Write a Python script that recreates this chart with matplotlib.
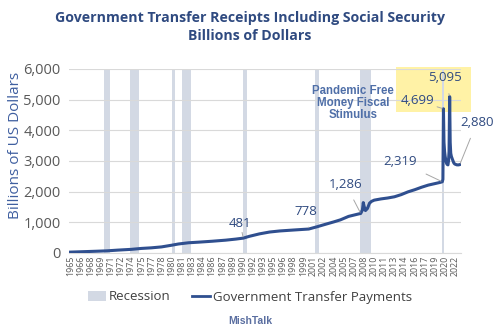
import matplotlib
matplotlib.use("Agg")
import matplotlib.pyplot as plt
from matplotlib.patches import Rectangle, Patch
from matplotlib.lines import Line2D

# ---- data ----
years = [1965.0, 1967.0, 1969.0, 1970.5, 1972.0, 1974.0, 1975.5, 1977.0, 1978.5,
         1980.0, 1981.0, 1982.5, 1984.0, 1986.0, 1988.0, 1989.5, 1990.6, 1991.5,
         1993.0, 1994.5, 1996.0, 1998.0, 2000.3, 2001.5, 2002.5, 2004.0, 2005.0,
         2006.2, 2007.5, 2008.0, 2008.25, 2008.38, 2008.5, 2008.7, 2009.0, 2009.3,
         2009.6, 2010.0, 2011.0, 2012.0, 2013.0, 2014.0, 2015.0, 2016.0, 2017.0,
         2018.0, 2019.0, 2019.8, 2020.08, 2020.17, 2020.25, 2020.33, 2020.42,
         2020.5, 2020.58, 2020.67, 2020.75, 2020.83, 2020.92, 2021.0, 2021.08,
         2021.17, 2021.25, 2021.33, 2021.42, 2021.5, 2021.58, 2021.67, 2021.75,
         2021.83, 2021.92, 2022.0, 2022.25, 2022.5, 2022.67]
values = [25, 40, 55, 68, 90, 115, 145, 165, 195,
          250, 290, 330, 350, 380, 415, 450, 481, 540,
          620, 680, 715, 745, 778, 850, 915, 1010, 1078,
          1190, 1260, 1286, 1400, 1640, 1520, 1380, 1450, 1620,
          1680, 1720, 1760, 1790, 1830, 1900, 1990, 2060, 2140,
          2210, 2260, 2300, 2319, 2400, 4699, 3600, 3300,
          3150, 3050, 2950, 2900, 2880, 2870, 3000, 3300,
          5095, 3600, 3250, 3150, 3100, 3050, 3000, 2950,
          2920, 2900, 2890, 2870, 2870, 2880]

recession_start = [1969.92, 1973.83, 1980.0, 1981.5, 1990.5, 2001.17, 2007.92, 2020.08]
recession_end = [1970.88, 1975.2, 1980.55, 1982.88, 1991.2, 2001.88, 2009.5, 2020.33]

tick_years = [1965 + 1.5 * k for k in range(39)]
tick_labels = [str(int(t)) for t in tick_years]

# annotated points: (year, value, label, dx_px, dy_px)
ann_years = [1990.6, 2000.3, 2008.0, 2020.08, 2020.25, 2021.17, 2022.67]
ann_values = [481, 778, 1286, 2319, 4699, 5095, 2880]
ann_labels = ["481", "778", "1,286", "2,319", "4,699", "5,095", "2,880"]
ann_dx = [-3, -3, -15, -42, -26, -5, 17]
ann_dy = [15, 18, 29, 20, 8, 19, 42]

title = "Government Transfer Receipts Including Social Security\nBillions of Dollars"

# ---- figure ----
fig = plt.figure(figsize=(5.0, 3.28), dpi=100)
ax = fig.add_axes([0.138, 0.229, 0.784, 0.561])

line_color = "#2F4F8F"
rec_color = "#D3D9E4"
text_blue = "#2F4A80"

ax.set_xlim(1964.8, 2022.85)
ax.set_ylim(0, 6000)

for s, e in zip(recession_start, recession_end):
    ax.axvspan(s, e, color=rec_color, zorder=0.3, lw=0)

# yellow highlight box (figure coords)
ax.add_patch(Rectangle((0.792, 0.6585), 0.15, 0.137, transform=fig.transFigure,
                       facecolor="#FFF2A6", edgecolor="none", zorder=0.2, clip_on=False))

ax.plot(years, values, color=line_color, lw=2.2, zorder=3)

ax.set_yticks(range(0, 6001, 1000))
ax.set_yticklabels([f"{v:,}" for v in range(0, 6001, 1000)], fontsize=10.5,
                   color="#595959", family="Open Sans")
ax.yaxis.grid(True, color="#D9D9D9", lw=0.8, zorder=0.5)
ax.set_axisbelow(True)
ax.set_xticks(tick_years)
ax.set_xticklabels(tick_labels, rotation=90, fontsize=6.4, color="#595959", family="Open Sans")
ax.tick_params(axis="both", length=0, pad=2)
ax.tick_params(axis="y", pad=6)
for sp in ["top", "right", "left"]:
    ax.spines[sp].set_visible(False)
ax.spines["bottom"].set_color("#D9D9D9")

ax.set_ylabel("Billions of US Dollars", fontsize=11, color="#3F5FA0", family="Open Sans",
              labelpad=2)
ax.yaxis.set_label_coords(-0.118, 0.585)

for x, y, lab, dx, dy in zip(ann_years, ann_values, ann_labels, ann_dx, ann_dy):
    ax.annotate(lab, xy=(x, y), xytext=(dx * 0.72, dy * 0.72), textcoords="offset points",
                ha="center", va="center", fontsize=9.5, color=text_blue, family="Open Sans",
                arrowprops=dict(arrowstyle="-", color="#A6A6A6", lw=0.7, shrinkA=5, shrinkB=1),
                zorder=5, annotation_clip=False)

ax.text(353 / 500, 1 - 103 / 328, "Pandemic Free\nMoney Fiscal\nStimulus", transform=fig.transFigure,
        ha="center", va="center", fontsize=8.3, fontweight="bold", color="#4F6FA8",
        family="Liberation Sans", linespacing=0.95)

fig.text(0.5, 1 - 27 / 328, title, ha="center", va="center", fontsize=10.2,
         fontweight="bold", color=text_blue, family="Open Sans", linespacing=1.3)

handles = [Patch(facecolor=rec_color, edgecolor="none"),
           Line2D([0], [0], color=line_color, lw=2)]
fig.legend(handles, ["Recession", "Government Transfer Payments"], loc="center",
           bbox_to_anchor=(0.5, 1 - 297 / 328), ncol=2, frameon=False,
           prop=dict(family="Open Sans", size=9.5), labelcolor="#404040",
           handlelength=1.4, handletextpad=0.2, columnspacing=1.6)

fig.text(0.5, 1 - 321 / 328, "MishTalk", ha="center", va="center", fontsize=7.5,
         fontweight="bold", color="#5A6EA0", family="Liberation Sans")

fig.savefig("out.png", dpi=100)
